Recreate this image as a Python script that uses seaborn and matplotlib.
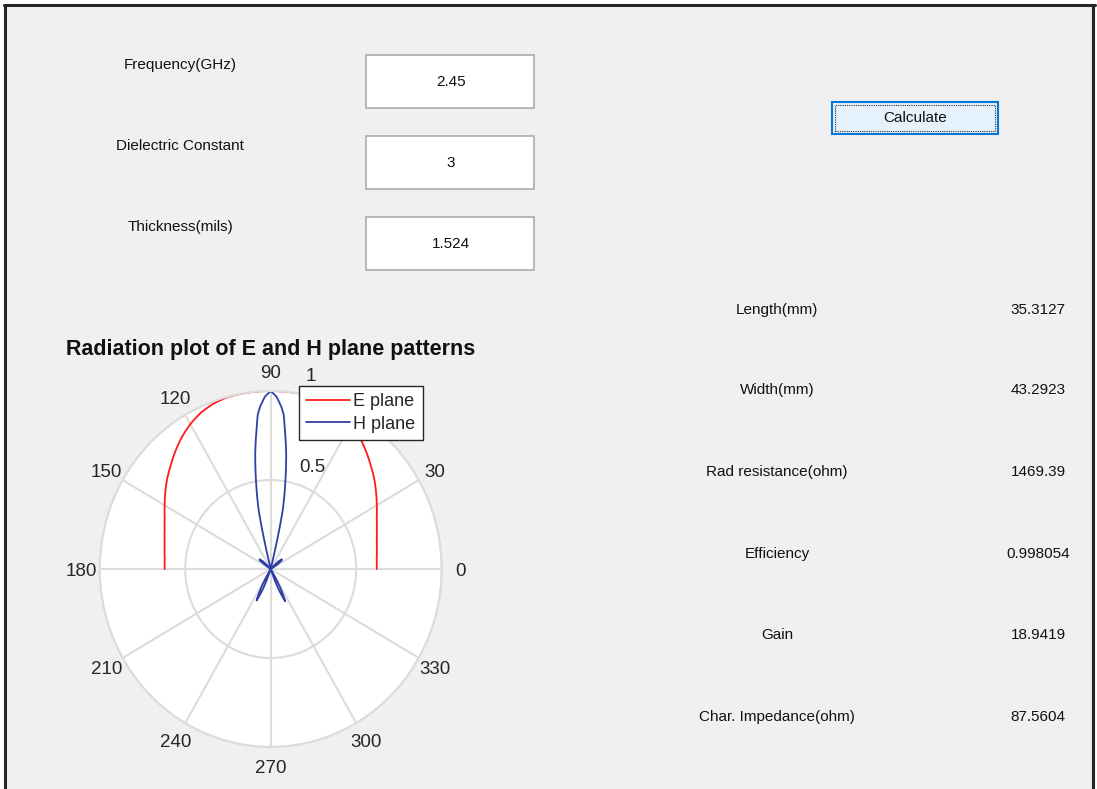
import numpy as np
import pandas as pd
import seaborn as sns
import matplotlib.pyplot as plt
from matplotlib.patches import Rectangle
from matplotlib.lines import Line2D

# 입력 / 결과 값
input_labels = ['Frequency(GHz)', 'Dielectric Constant', 'Thickness(mils)']
input_values = ['2.45', '3', '1.524']
result_labels = ['Length(mm)', 'Width(mm)', 'Rad resistance(ohm)', 'Efficiency', 'Gain', 'Char. Impedance(ohm)']
result_values = ['35.3127', '43.2923', '1469.39', '0.998054', '18.9419', '87.5604']

# E plane 패턴 (각도 deg, 크기) - 그림에서 읽은 값
e_angle = [0, 5, 10, 15, 20, 25, 30, 35, 40, 45, 50, 55, 60, 65, 70, 75, 80, 85, 90,
           95, 100, 105, 110, 115, 120, 125, 130, 135, 140, 145, 150, 155, 160, 165, 170, 175, 180]
e_mag = [0.62, 0.622, 0.63, 0.642, 0.66, 0.684, 0.716, 0.752, 0.79, 0.826, 0.866, 0.905, 0.94,
         0.968, 0.987, 0.997, 1.0, 1.0, 1.0,
         1.0, 1.0, 0.997, 0.987, 0.968, 0.94, 0.905, 0.866, 0.826, 0.79, 0.752, 0.716, 0.684,
         0.66, 0.642, 0.63, 0.622, 0.62]

# H plane 패턴
h_angle = [0, 30, 34, 37, 40, 43, 46, 76, 76.5, 77, 78, 80, 82, 83, 84, 85, 86, 88, 90,
           92, 94, 95, 96, 97, 98, 100, 102, 103, 103.5, 104,
           134, 137, 140, 143, 146, 239, 242, 245, 248, 251, 289, 292, 295, 298, 301, 360]
h_mag = [0, 0, 0.05, 0.08, 0.085, 0.065, 0, 0, 0.08, 0.18, 0.34, 0.49, 0.65, 0.72, 0.79, 0.87, 0.91,
         0.969, 1.0,
         0.969, 0.91, 0.87, 0.79, 0.72, 0.65, 0.49, 0.34, 0.18, 0.08, 0,
         0, 0.065, 0.085, 0.08, 0, 0, 0.12, 0.195, 0.12, 0, 0, 0.12, 0.2, 0.12, 0, 0]

theta_ticks = list(range(0, 360, 30))

W, H = 1097, 789

sns.set_theme(style='white')
plt.rcParams['font.family'] = ['Liberation Sans', 'DejaVu Sans']

fig = plt.figure(figsize=(W / 100, H / 100), dpi=100)
fig.patch.set_facecolor('white')


def fx(x):
    return x / W


def fy(y):
    return 1 - y / H


# 창 배경과 테두리
fig.patches.append(Rectangle((fx(6), 0), fx(1092) - fx(6), fy(6), transform=fig.transFigure,
                             facecolor='#f0f0f0', edgecolor='none', zorder=-10))
for (x0, y0, x1, y1) in [(4, 5, 1095, 5), (5, 5, 5, 789), (1093, 5, 1093, 789)]:
    fig.lines.append(Line2D([fx(x0), fx(x1)], [fy(y0), fy(y1)], transform=fig.transFigure,
                            color='#262626', lw=2.2))

# 입력 라벨과 입력 칸
label_y = [65, 146, 227]
box_top = [55, 136, 217]
for lab, val, ly, bt in zip(input_labels, input_values, label_y, box_top):
    fig.text(fx(180), fy(ly), lab, ha='center', va='center', fontsize=11, color='#111111')
    fig.patches.append(Rectangle((fx(366), fy(bt + 53)), fx(534) - fx(366), fy(bt) - fy(bt + 53),
                                 transform=fig.transFigure, facecolor='white', edgecolor='#ababab', lw=1.2))
    fig.text(fx(451), fy(bt + 27), val, ha='center', va='center', fontsize=11, color='#111111')

# Calculate 버튼
fig.patches.append(Rectangle((fx(832), fy(134)), fx(998) - fx(832), fy(102) - fy(134),
                             transform=fig.transFigure, facecolor='#e5f1fb', edgecolor='#0078d7', lw=1.5))
fig.patches.append(Rectangle((fx(835), fy(131)), fx(995) - fx(835), fy(105) - fy(131),
                             transform=fig.transFigure, facecolor='none', edgecolor='#333333', lw=0.8,
                             linestyle=(0, (1, 1))))
fig.text(fx(915), fy(118), 'Calculate', ha='center', va='center', fontsize=11, color='#111111')

# 결과 라벨
result_y = [310, 390, 472, 554, 635, 717]
for lab, val, ry in zip(result_labels, result_values, result_y):
    fig.text(fx(777), fy(ry), lab, ha='center', va='center', fontsize=11, color='#111111')
    fig.text(fx(1038), fy(ry), val, ha='center', va='center', fontsize=11, color='#111111')

# 극좌표 방사 패턴 (스크린샷이 가로로 약간 눌려 있음)
cx, cy, rx, ry_ = 270.7, 569, 171, 178
ax = fig.add_axes([fx(cx - rx), fy(cy + ry_), 2 * rx / W, 2 * ry_ / H], projection='polar')
ax.set_aspect('auto')
ax.set_facecolor('white')

e_df = pd.DataFrame({'theta': np.deg2rad(e_angle), 'r': e_mag})
h_df = pd.DataFrame({'theta': np.deg2rad(h_angle), 'r': h_mag})
sns.lineplot(data=e_df, x='theta', y='r', ax=ax, color='#ff1a1a', lw=1.3, sort=False,
             estimator=None, label='E plane')
sns.lineplot(data=h_df, x='theta', y='r', ax=ax, color='#2f3fa6', lw=1.3, sort=False,
             estimator=None, label='H plane')
# 극좌표에서 곡선으로 그리기
for ln in ax.get_lines():
    ln.get_path()._interpolation_steps = 40

ax.set_ylim(0, 1)
ax.set_xlabel('')
ax.set_ylabel('')
ax.set_xticks(np.deg2rad(theta_ticks))
ax.set_xticklabels([])
ax.set_yticks([0.5, 1])
ax.set_yticklabels([])
ax.grid(True, color='#dcdcdc', lw=1.5)
ax.spines['polar'].set_color('#dcdcdc')
ax.spines['polar'].set_linewidth(1.5)
for t in theta_ticks:
    if t == 60:  # 범례에 가려져 보이지 않음
        continue
    ax.text(np.deg2rad(t), 1.11, str(t), ha='center', va='center_baseline', fontsize=13.5,
            color='#262626', clip_on=False)
ax.text(np.deg2rad(78), 1.115, '1', ha='center', va='center_baseline', fontsize=13.5, color='#262626',
        clip_on=False)
ax.text(np.deg2rad(67), 0.63, '0.5', ha='center', va='center_baseline', fontsize=13.5, color='#262626')

leg = ax.legend(loc='upper left', bbox_to_anchor=(fx(299), fy(386)), bbox_transform=fig.transFigure,
                fontsize=13, frameon=True, fancybox=False, framealpha=1, edgecolor='#262626',
                borderpad=0.4, labelspacing=0.3, handlelength=2.4, handletextpad=0.2, borderaxespad=0)
leg.get_frame().set_linewidth(1.0)
leg.set_zorder(10)

fig.text(fx(270.5), fy(350), 'Radiation plot of E and H plane patterns', ha='center', va='center',
         fontsize=15.5, fontweight='bold', color='#111111')

fig.savefig('out.png', dpi=100, facecolor=fig.get_facecolor())
